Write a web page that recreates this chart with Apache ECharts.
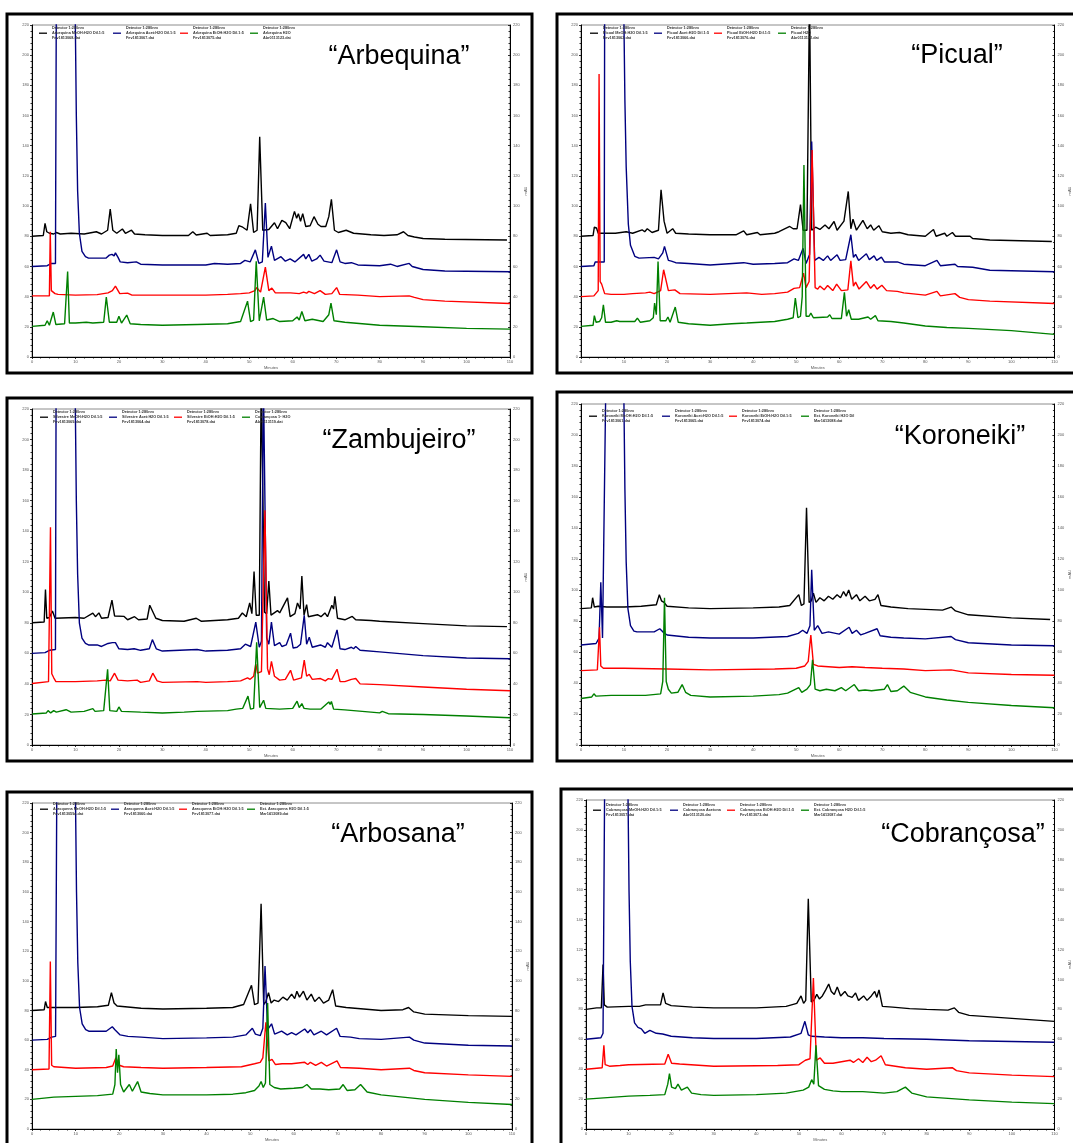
<!DOCTYPE html>
<html><head><meta charset="utf-8">
<script src="https://cdn.jsdelivr.net/npm/echarts@6/dist/echarts.min.js"></script>
<style>html,body{margin:0;padding:0;background:#fff}#c{width:1073px;height:1143px}</style>
</head><body><div id="c"></div><script>
// ---------- DATA ----------
const panelTitles = ['\u201CArbequina\u201D','\u201CPicual\u201D','\u201CZambujeiro\u201D','\u201CKoroneiki\u201D','\u201CArbosana\u201D','\u201CCobrançosa\u201D'];
const traceColors = ['#000000','#000080','#ff0000','#008000'];
const detectorLine = 'Detector 1:280nm';
const xLabelName = 'Minutes';
const yLabelName = 'mAU';

// Arbequina
const arbequinaMeOH = [[0,80],[2.6,80.5],[3,88.5],[3.4,83],[4,82],[5,81.5],[5.6,82.5],[6.5,81.5],[9,82],[12,81.5],[14.8,83],[16,81.5],[17.4,84],[18,98],[18.6,84],[19.5,82],[20.8,84.8],[21.5,82],[22.9,84],[23.6,81.5],[26,81],[30,80.5],[36,80.5],[37,83],[37.8,80.8],[40.3,82],[41,80.5],[45,81],[47,82],[47.6,87],[48.5,86],[49.5,84],[50.3,101.5],[51,82.5],[51.8,84],[52.4,146],[53.1,84],[53.5,84],[54.5,84.5],[55.8,89],[56.5,85],[57.5,90.5],[58.4,89],[59.3,85],[60.4,96.5],[60.9,92],[61.3,95],[61.8,90],[62.3,95],[63,86.5],[64,87],[64.9,93],[65.8,88],[66.5,86.5],[67.6,86.5],[68.3,93],[68.9,104.5],[69.6,84],[70.5,82.5],[72.3,84],[74,82],[78,81],[81,80.5],[84,81],[85.5,83],[86.5,80.5],[88,79.5],[90,78.5],[95,78],[109.3,77.5]];
const arbequinaAcet = [[0,60],[3.5,60.5],[4.5,62],[5.4,62],[5.6,240],[9.9,240],[10.2,160],[10.5,110],[10.9,82],[11.5,70],[12.3,66.5],[13,65.5],[17,65.5],[17.8,67.5],[18.4,68],[18.9,67],[19.2,69],[19.8,66],[20.3,63],[22,62.5],[24,63],[25,61.5],[30,61],[40,61],[42,62],[45,61.5],[48,62],[49,64],[50.2,63],[51.4,71],[52.2,62],[53,63],[53.7,102],[54.3,66],[55.1,73.5],[55.8,64],[57.3,66.5],[58.3,63.5],[59.4,65],[60.5,63],[62.5,68],[63,65],[63.7,68],[64.4,63.5],[65.5,65],[66.3,67.5],[67.2,63.5],[69,62.5],[70.1,71],[70.9,63],[72,62],[73.5,62.5],[75,61],[80,60.5],[82.5,61.5],[84,60],[86.8,62],[87.5,60],[90,58],[95,57],[110,56.5]];
const arbequinaEtOH = [[0,40.5],[4,40.5],[4.2,83],[4.45,44],[4.8,44],[5.3,42],[6,41.5],[10,41],[15,41.3],[17.5,42.5],[18.5,44],[19.2,47],[20.2,42],[22,42.3],[23,41],[30,41],[40,41],[45,41.5],[48,42],[50,42.5],[51.3,44],[51.7,46],[52.6,43],[53.7,59.5],[54.5,44],[55.2,45.7],[56,42.5],[57.3,42.5],[59.5,42.5],[61.5,42],[62.5,43],[63.2,42.3],[63.7,43.5],[65,42],[66.3,44],[67.5,41.5],[69,42],[70.1,46],[70.8,41.5],[75,41],[80,40],[86.8,40.5],[88,39.5],[90,38],[95,37],[110,35.5]];
const arbequinaH2O = [[0,20.3],[3,21],[3.5,24],[4,21],[4.9,29.8],[5.5,21.5],[7.5,22],[8.2,56.7],[8.6,22.5],[10,22.5],[12.5,23],[14,22.5],[16.5,23],[17.1,39.7],[17.8,23],[19.5,23],[20,27],[20.6,22.5],[21.8,27.8],[22.6,22],[25,21.5],[30,21],[38,21.5],[45,22],[48,23.5],[49.6,37],[50.3,23.5],[51,24.5],[51.6,63.5],[52.3,24],[53.3,39.7],[54,24.5],[55.5,25.5],[57,23.5],[60,24],[61,26.5],[61.5,24.5],[62.1,30.2],[62.8,24],[64.5,25],[67,23.5],[68.3,28],[68.8,35.7],[69.5,24],[72,23],[80,21],[90,20],[100,19],[110,18.5]];

// Picual
const picualMeOH = [[0,80],[2.8,80.5],[3.1,86],[3.6,85.5],[4,82],[8,82],[10.5,83],[12,82],[14.2,84.3],[14.8,83],[15.4,85],[16.5,82.5],[18,84],[18.6,110.8],[19.3,90],[20,82],[21.3,85],[22,82],[25,81.5],[30,81],[36,81],[37.8,83.6],[38.5,81],[41,82.5],[41.6,81],[45,82],[46,83],[48.5,86.5],[49.3,85],[50.2,85],[51,101],[51.6,84],[52.5,84],[53.1,240],[53.6,84],[54.5,86],[55.5,84.5],[56.7,87.5],[57.6,85],[58.8,89.8],[59.5,84],[61.1,90],[62.1,109.7],[62.7,85],[63.2,91.3],[64,84],[65.5,90.5],[66.5,85],[67.3,87.5],[68,84],[69.2,87],[70,83],[72,82],[74,82.5],[76,81],[80,80],[81.9,84.5],[82.5,80],[84.5,82],[85,80],[86.3,82.5],[87,80],[90.4,80],[91,78.5],[95,77.5],[109.4,76.5]];
const picualAcet = [[0,60],[3,60.5],[3.3,63],[4.8,63],[5.4,63],[5.5,240],[9.9,240],[10.2,170],[10.5,126],[11,88],[11.5,74],[12.5,66.7],[13.5,65.5],[17,66],[18,65],[19,69],[19.4,73.3],[20.3,64],[21,63.5],[22,62.5],[25,62],[30,61],[37.8,62.5],[40,61.5],[45,62],[48,62.5],[49.5,65],[50.5,64],[51.6,72],[52.3,62],[53.1,68],[53.6,142.8],[54.3,64],[55.3,66],[56.3,64],[57.3,67],[58,64],[59.5,67.7],[60.2,64],[61.5,64.5],[62.7,81],[63.3,66],[63.8,68],[64.5,64],[66.3,68.4],[67,64.5],[68.1,67],[68.7,64],[69.8,66.2],[70.5,63],[73.5,63],[75,61.5],[80,60.5],[82.7,64],[83.5,60.5],[86.9,61.5],[87.5,60],[91,59.5],[95,57.5],[110,56.5]];
const picualEtOH = [[0,40],[3,40.5],[4,44],[4.2,187.6],[4.45,50],[4.8,48.3],[5.5,42],[7,41.5],[10,41.5],[12,42],[15,42.5],[16,43],[17,42],[18.5,44],[19.2,57.8],[20.3,44],[21.8,44.5],[23,42],[30,41.5],[38.5,42.5],[42,41.5],[45,42],[48,43],[49.5,45.5],[50.8,46],[51.7,55.6],[52.3,46],[53,50],[53.7,137.2],[54.4,46],[55,45],[55.5,47],[56.5,44.5],[57.3,47.4],[58.5,44],[59.4,48.3],[60.5,44],[62,44.5],[62.7,63.8],[63.3,47],[63.8,49.6],[64.6,45],[66.3,50],[67.3,45.5],[68.1,48],[68.8,45],[69.9,47.5],[71,44],[73.5,43.5],[75,42.5],[80,41],[82.7,43.5],[83.5,40.5],[86.9,42],[88,39.5],[90,38],[95,37],[110,35.5]];
const picualH2O = [[0,20.3],[2.8,21],[3.1,27.4],[3.5,23],[4.3,23.5],[4.8,26],[5.2,34.6],[5.7,23],[7,23],[8.3,24],[9,23.5],[12.5,23.5],[13.1,25.8],[13.8,23],[16,24],[16.8,26],[17.1,35.7],[17.5,28],[17.9,63.3],[18.4,24],[19.7,24],[20.2,26.5],[20.7,23],[21.9,33.1],[22.6,23],[25,22],[30,21],[35,22],[38.5,22.5],[45,23.5],[48,25],[49.3,26],[49.8,39],[50.4,26],[51,27],[51.4,40],[51.8,127.3],[52.3,27],[53,27],[53.4,29.1],[54,26],[57.3,26.5],[57.8,28],[58.3,25.5],[60.5,25.5],[61.2,42.8],[61.7,27],[62.2,31.3],[62.8,25],[64.5,25],[66.7,26.5],[67.3,25],[68.4,27.4],[69,24],[72,23.5],[75,22.5],[80,20.5],[85,19.5],[90,19],[100,17.5],[110,15]];

// Zambujeiro
const zambujeiroMeOH = [[0,80],[2.8,80.5],[3.1,101.8],[3.4,83],[4,83.5],[4.7,87.7],[5.3,83],[10,83.5],[12,83],[14,86.4],[14.6,84],[15.4,86.5],[16,83],[17.5,83.5],[18.4,94.8],[19,84.5],[21.2,84.2],[22,82],[23.6,84],[24.5,82],[26.5,82.5],[27.1,91.5],[28.5,83],[30,81.5],[35,81],[37.8,83],[39,81],[45,82],[47.5,83],[48.4,86.4],[49.3,84],[50.1,93],[50.6,86],[51.1,113.5],[51.6,85],[52.3,85],[52.75,240],[53.1,240],[53.5,87],[54,86],[54.5,107.4],[55,85],[56.5,88],[57,86.5],[58.8,96.3],[59.4,84],[60.5,86],[61.1,93],[61.7,89],[62.1,110.7],[62.6,85],[63.2,91.9],[63.6,84],[65.7,85.3],[66.5,84],[67.4,86.5],[68,84],[69,91.5],[69.4,89],[69.7,97.4],[70.3,83],[72,82],[73.7,84.2],[74.5,82],[78,81.5],[80,81],[90,79.5],[100,78],[109.3,77.5]];
const zambujeiroAcet = [[0,60],[3,60.5],[4,62],[5.4,62.5],[5.55,240],[9.9,240],[10.2,160],[10.5,112],[10.9,80],[11.5,70],[12.3,66.5],[13,65.5],[15,65.5],[16,64.5],[17.5,66.5],[18.5,67],[18.9,66],[19.2,67],[20,63],[22,62.5],[23.5,63],[25,62],[27,63],[27.7,69],[28.6,63],[30,61.5],[38,62.5],[40,61.5],[45,62],[48,63],[49.1,66],[50.3,64.5],[51.5,80.5],[52.3,64],[52.8,68],[53.25,240],[53.65,240],[54,70],[54.5,66],[55.1,80.5],[55.8,65],[57,67],[57.5,64.5],[58.5,65.5],[59.5,73.2],[60.1,63.5],[61,64],[61.8,66],[62.65,84.9],[63.2,66],[63.8,70.5],[64.5,64],[66.4,65.5],[67.5,64],[68,67],[69,64],[70.2,75.4],[70.9,63],[72,62.5],[73.5,64],[74,63],[74.5,64.5],[75.5,62],[80,61],[90,58.5],[100,57],[110,56.5]];
const zambujeiroEtOH = [[0,40.3],[3.8,41.5],[4.25,142.6],[4.55,46.7],[5,44],[5.5,41.5],[10,41.5],[15,42],[17,42.5],[18,42],[19,47],[19.8,42.5],[22,42],[24.2,42.5],[25,41],[27,42],[27.8,47],[28.8,42],[30,41],[38,41.5],[40,41],[45,41.5],[48,42],[49.6,44],[50.2,43],[51,45],[51.5,52.9],[51.9,47],[52.8,48],[53.6,153.7],[54.2,50],[54.6,46],[55.1,54.7],[55.8,45],[57,42.5],[58.3,43],[59.5,48.9],[60.2,42.5],[62,44],[62.65,55.6],[63.2,45],[63.8,46.3],[64.5,43],[66.4,43.5],[67.5,42],[68.2,43.5],[69,43],[70.2,49.6],[70.9,41.5],[72,41.5],[73.5,43],[74.5,43.5],[75.5,40],[80,39.5],[90,38],[100,36.5],[110,35.5]];
const zambujeiroH2O = [[0,20.3],[3.3,21],[3.7,22.5],[4.3,21],[5,22.5],[5.6,21.5],[7.85,23.1],[9,21.5],[12,22],[14,23.8],[14.5,22],[16.5,22.5],[17.4,49.6],[17.9,22.5],[19.5,22],[20,24.9],[20.6,22],[25,21.5],[30,21],[35,21.5],[38,22],[45,22.5],[47,23.5],[48.5,24],[49.7,32],[50.3,23.5],[51,24],[51.7,67.2],[52.4,24.5],[53.3,29.3],[53.8,24],[57,23.5],[60,24],[61,28.7],[61.5,24.5],[62.1,27.1],[62.6,24],[64,23.5],[66.5,23.5],[68.3,28.2],[68.6,26.5],[68.9,28.5],[69.4,23.5],[72,23],[74,22.5],[80,21],[80.6,22],[82,20.5],[90,20],[100,19],[110,17.8]];

// Koroneiki
const koroneikiMeOH = [[0,88],[2.4,88.5],[2.7,95],[3.1,89],[4,89.5],[6,89],[10,89],[14,89.5],[17.5,90.5],[18.2,97],[18.7,93],[19.3,92],[20,89.5],[25,88.5],[30,88],[40,88.5],[46,89],[48.5,90],[50.6,97],[51.2,90],[51.8,91],[52.4,153],[53,92],[53.5,93],[54,98],[54.6,92],[55.5,95],[56.5,93],[57.5,96],[58.5,94],[59.5,97],[60.3,95],[61,99],[61.6,96],[62.2,100],[62.9,94],[64,97],[64.8,93],[66,96],[67,93],[68.3,94],[69,97],[69.7,90],[72,89],[76,88],[80,87.5],[84,87],[86,89],[87,86.5],[90,84],[100,82],[109,81]];
const koroneikiAcet = [[0,64.5],[3.5,65.5],[4.2,69],[4.6,105],[5,69],[5.4,69],[5.8,240],[9.9,240],[10.2,165],[10.5,118],[10.9,88],[11.5,77],[12.3,73.5],[13,73],[17,73],[18.3,75],[19,73],[20,71],[25,69.5],[30,69],[40,69],[48,70],[50.5,72],[51.5,74],[52.5,72],[53.2,77],[53.6,113],[54.2,74],[55,77],[56,72],[57.5,73],[60,71.5],[62.3,76],[63,72],[64,74],[65,71],[66,72],[68.8,75],[69.5,70.5],[72,69.5],[75,69],[80,68.5],[86,70],[87,68],[90,66],[100,64.5],[110,64]];
const koroneikiEtOH = [[0,48],[3.8,48.5],[4.3,76],[4.6,51],[5.2,49.5],[10,49.5],[20,49],[30,48.5],[45,49],[50,49.5],[52,51],[52.8,54],[53.4,71],[54,52],[55,51],[60,50],[63,50.5],[66,50],[70,49.5],[75,49],[80,48],[86,48.5],[90,46.5],[100,45.5],[110,45]];
const koroneikiH2O = [[0,30],[2.5,31],[3,33],[3.5,31.5],[7,32],[10,32],[15,32],[18.5,33],[19,41],[19.4,95],[19.8,41],[20.3,36],[21,33.5],[22.5,34],[23.5,39],[24.3,34],[25.5,32],[30,31],[40,31.5],[46,32.5],[48,33.5],[50.6,37],[51.3,34],[52.5,36],[53.3,39],[53.8,55],[54.4,36],[55.5,35],[57,36],[59,35],[60.5,37],[61.5,35],[63.5,39],[64.5,35],[66,35.5],[67.5,35],[70.5,36],[71.2,39],[72,34.5],[73.5,35],[75,38],[76.5,34],[80,31],[85,29],[90,27.5],[100,25.5],[110,24]];

// Arbosana
const arbosanaMeOH = [[0,80],[2.8,80.5],[3.1,86],[3.5,82],[5,82],[10,82],[15,82.5],[17.5,83.5],[18.2,92],[18.8,85],[19.5,83],[25,81.5],[30,81],[40,81.5],[46,82],[48.5,84],[50.3,97],[51,84],[51.8,85],[52.5,152],[53.1,84],[53.6,86],[54.2,92],[54.8,85],[55.5,87],[56.5,86],[57.5,89],[58.5,87],[59.5,91],[60.2,88],[60.7,93],[61.3,89],[62.2,93],[63,87],[64,91],[64.8,86],[65.8,89],[66.8,85],[68,87],[68.9,94],[69.6,83],[72,82],[80,80],[85,80.5],[86.3,82],[87.5,79],[90,77.5],[100,76.5],[110,76]];
const arbosanaAcet = [[0,60],[3.5,60.5],[4.5,62],[5.4,62.5],[5.7,240],[9.9,240],[10.2,160],[10.5,112],[10.9,82],[11.5,71],[12.3,67],[13,66],[17,66],[18.4,69],[19,67],[19.4,68],[20.2,63.5],[22,62.5],[25,62],[30,61],[40,61.5],[46,62],[49,63.5],[50.5,68],[51.2,64],[52.3,63],[52.9,68],[53.4,110],[54,67],[54.9,71],[55.6,64],[57.2,66],[58.5,63.5],[59.5,65],[60.5,63.5],[62.5,67.5],[63.2,65],[63.8,67],[64.6,63.5],[66.3,66],[67.5,63.5],[69.8,68],[70.6,62.5],[73,62],[75,61],[80,60.5],[86.5,62],[87.5,60],[90,58],[100,56.5],[110,56]];
const arbosanaEtOH = [[0,40],[3.9,40.5],[4.2,113],[4.5,43],[5,42],[10,41],[17,41.5],[18.5,42.5],[19.2,48],[20,43],[21,42],[25,41.5],[30,41],[40,41.5],[48,42],[51,44],[52.3,45],[52.9,48],[53.6,72],[54.3,46],[55,47],[55.8,43.5],[57.3,44],[59.5,44],[62.5,45],[63.2,43.5],[63.8,45],[65,43],[66.3,45],[67.5,42.5],[69.9,46],[70.7,41.5],[75,41],[80,40],[86.5,41],[87.5,39.5],[90,38],[100,36.5],[110,35.5]];
const arbosanaH2O = [[0,20],[5,21.5],[10,22],[15,22.5],[18.5,23.5],[19,30],[19.3,54],[19.6,38],[19.9,50],[20.3,30],[21,25],[22.3,30],[23,25.5],[24.2,32],[25,25],[27,24],[30,23],[40,23],[46,23.5],[49,24.5],[51,26],[52,29],[52.5,32],[53,28],[53.5,31],[54,85],[54.5,30],[55.5,28],[57,27],[60,27.5],[62,28],[63,30],[64,27],[66,27],[68,26.5],[70.5,27],[71.3,30],[72.2,26],[74,26.5],[75.3,30],[76.8,25],[80,23],[90,20],[100,18],[110,16.5]];

// Cobrançosa
const cobrancosaMeOH = [[0,80],[2.5,81],[3.6,81],[4,110],[4.3,83],[5,81.5],[10,82],[12.5,82],[14,83],[17.5,83],[18.1,91],[18.7,84],[20,82.5],[25,81.5],[30,81],[40,81],[47,82],[49.5,84],[50.5,89],[51.1,84],[51.6,86],[52.2,154],[52.9,85],[53.5,86],[54.2,90],[54.8,87],[55.5,89],[56.3,93],[57,97],[57.6,92],[58.3,90],[59,95],[59.8,89],[60.8,92],[61.5,89],[62.5,88],[63.3,91],[64,86],[65.2,89],[66,86],[67,89],[67.8,92],[68.3,88],[68.8,93],[69.6,82],[72,81.5],[76,80.5],[80,80],[85,79.5],[86.5,81],[87.5,78],[90,76],[100,74],[110,72]];
const cobrancosaAcet = [[0,60],[3.5,61],[4,64],[4.4,240],[9.8,240],[10.1,160],[10.4,112],[10.8,82],[11.4,71],[12.2,68],[13,67],[13.8,64],[15,66],[16.5,64],[18,63.5],[20,62],[25,61],[30,60.5],[40,60.5],[48,61.5],[50.5,64],[51.4,72],[52.2,63],[53,62],[56,61.5],[60,61],[65,61],[70,60.5],[80,60],[90,59],[100,58.5],[110,58]];
const cobrancosaEtOH = [[0,40],[3.8,41],[4.2,56],[4.5,43],[5.5,42],[8,42.5],[10,43],[18.5,43.5],[19.3,50],[20.1,44],[22,43.5],[30,42],[45,42.5],[50,43],[51.5,46],[52.6,47],[53.4,101],[54.1,46],[55,47.5],[56,44],[58,44],[60,45],[62,46],[62.8,44.5],[64,47],[65,44.5],[66,48],[67,45],[68,46],[69.3,49],[70.3,43],[75,41],[80,40],[86,41],[87,39],[90,37.5],[100,36],[110,35]];
const cobrancosaH2O = [[0,20],[5,21],[10,22],[15,22.5],[18.5,23],[19.2,30],[19.6,37],[20.1,28],[21,27],[21.6,30],[22.4,26],[23.8,28],[24.8,24],[27,23],[30,22.5],[40,23],[47,24],[51,26],[52.3,28],[53,33],[53.5,30],[54,56],[54.6,29],[56,26.5],[58,25.5],[60,25],[65,25],[70,24],[73,25],[75,28],[76.5,24],[80,21.5],[90,19.5],[100,18],[110,17]];

// legend texts (sample, file)
const legendArbequina = [['Arbequina MeOH:H2O Dil.1:5','Fev1813068.dat'],['Arbequina Acet:H2O Dil.1:5','Fev1813067.dat'],['Arbequina EtOH:H2O Dil.1:5','Fev1813075.dat'],['Arbequina H2O','Abr0113123.dat']];
const legendPicual = [['Picual MeOH:H2O Dil.1:5','Fev1813062.dat'],['Picual Acet:H2O Dil.1:5','Fev1813066.dat'],['Picual EtOH:H2O Dil.1:5','Fev1813076.dat'],['Picual H2O','Abr0113122.dat']];
const legendZambujeiro = [['Silvestre MeOH:H2O Dil.1:5','Fev1813069.dat'],['Silvestre Acet:H2O Dil.1:5','Fev1813064.dat'],['Silvestre EtOH:H2O Dil.1:5','Fev1813078.dat'],['Cobrançosa 1º H2O','Abr0113119.dat']];
const legendKoroneiki = [['Koroneiki MeOH:H2O Dil.1:5','Fev1813061.dat'],['Koroneiki Acet:H2O Dil.1:5','Fev1813065.dat'],['Koroneiki EtOH:H2O Dil.1:5','Fev1813074.dat'],['Ext. Koroneiki H2O Dil','Mar1413088.dat']];
const legendArbosana = [['Arasquena MeOH:H2O Dil.1:5','Fev1813059a.dat'],['Arasquena Acet:H2O Dil.1:5','Fev1813060.dat'],['Arasquena EtOH:H2O Dil.1:5','Fev1813077.dat'],['Ext. Arasquena H2O Dil.1:5','Mar1413089.dat']];
const legendCobrancosa = [['Cobrançosa MeOH:H2O Dil.1:5','Fev1813057.dat'],['Cobrançosa Acetona','Abr0113120.dat'],['Cobrançosa EtOH:H2O Dil.1:5','Fev1813073.dat'],['Ext. Cobrançosa H2O Dil.1:5','Mar1413087.dat']];

const panelTraces = [
  [arbequinaMeOH, arbequinaAcet, arbequinaEtOH, arbequinaH2O],
  [picualMeOH, picualAcet, picualEtOH, picualH2O],
  [zambujeiroMeOH, zambujeiroAcet, zambujeiroEtOH, zambujeiroH2O],
  [koroneikiMeOH, koroneikiAcet, koroneikiEtOH, koroneikiH2O],
  [arbosanaMeOH, arbosanaAcet, arbosanaEtOH, arbosanaH2O],
  [cobrancosaMeOH, cobrancosaAcet, cobrancosaEtOH, cobrancosaH2O]
];
const panelLegends = [legendArbequina, legendPicual, legendZambujeiro, legendKoroneiki, legendArbosana, legendCobrancosa];

// ---------- LAYOUT (pixels) ----------
const layout = [
  {frame:[7,14,525,359],  grid:[32,25,478,332],  title:[399,57],  legendX:[39,113,180,250], legendTop:26},
  {frame:[557,14,525,359],grid:[581,25,477,332], title:[957,56],  legendX:[590,654,714,778], legendTop:26},
  {frame:[7,398,525,363], grid:[32,409,478,336], title:[399,441], legendX:[40,109,174,242], legendTop:410},
  {frame:[557,392,525,369],grid:[581,404,481,341],title:[960,437], legendX:[589,662,729,801], legendTop:409},
  {frame:[7,792,525,362], grid:[32,803,480,333], title:[398,835], legendX:[40,111,179,247], legendTop:802},
  {frame:[561,789,525,362],grid:[586,800,477,336],title:[963,835], legendX:[593,670,727,801], legendTop:803}
];

// ---------- BUILD ----------
const FONT = 'Liberation Sans, Arial, sans-serif';
const grid=[], xAxis=[], yAxis=[], series=[], legend=[], graphic=[];
const tickStyle = {color:'#000', width:0.8};
layout.forEach((L,i)=>{
  grid.push({left:L.grid[0], top:L.grid[1], width:L.grid[2], height:L.grid[3], show:true, borderColor:'#8c8c8c', borderWidth:1, backgroundColor:'transparent', containLabel:false});
  xAxis.push({gridIndex:i, type:'value', min:0, max:110, interval:10,
    axisLine:{show:true, onZero:false, lineStyle:{color:'#000', width:1}},
    axisTick:{show:true, length:2, lineStyle:tickStyle},
    minorTick:{show:true, splitNumber:5, length:1.5, lineStyle:tickStyle},
    splitLine:{show:false},
    axisLabel:{fontSize:4, color:'#555', margin:3, fontFamily:FONT},
    name:xLabelName, nameLocation:'middle', nameGap:9, nameTextStyle:{fontSize:4, color:'#555', fontFamily:FONT}});
  yAxis.push({gridIndex:i, type:'value', min:0, max:220, interval:20, position:'left',
    axisLine:{show:true, onZero:false, lineStyle:{color:'#000', width:1}},
    axisTick:{show:true, length:2, lineStyle:tickStyle},
    minorTick:{show:true, splitNumber:5, length:1.5, lineStyle:tickStyle},
    splitLine:{show:false},
    axisLabel:{fontSize:4, color:'#555', margin:3, fontFamily:FONT}});
  yAxis.push({gridIndex:i, type:'value', min:0, max:220, interval:20, position:'right',
    axisLine:{show:true, onZero:false, lineStyle:{color:'#000', width:1}},
    axisTick:{show:true, inside:true, length:2, lineStyle:tickStyle},
    minorTick:{show:true, splitNumber:5, length:1.5, lineStyle:tickStyle},
    splitLine:{show:false},
    axisLabel:{fontSize:4, color:'#555', margin:3, fontFamily:FONT},
    name:yLabelName, nameLocation:'middle', nameGap:12, nameRotate:90, nameTextStyle:{fontSize:4, color:'#555', fontFamily:FONT}});
  panelTraces[i].forEach((d,k)=>{
    const name = [detectorLine].concat(panelLegends[i][k]).join('\n');
    series.push({type:'line', name:name, xAxisIndex:i, yAxisIndex:2*i, data:d,
      showSymbol:false, symbol:'none', clip:true, silent:true,
      color:traceColors[k], lineStyle:{width:1.4, color:traceColors[k]}});
    legend.push({left:L.legendX[k], top:L.legendTop, data:[name], selectedMode:false,
      icon:'rect', itemWidth:8, itemHeight:1.3, padding:0, itemGap:0,
      textStyle:{fontSize:3.8, fontWeight:'bold', color:'#333', lineHeight:4.8, fontFamily:FONT}});
  });
  graphic.push({type:'rect', shape:{x:L.frame[0], y:L.frame[1], width:L.frame[2], height:L.frame[3]},
    style:{fill:'none', stroke:'#000', lineWidth:3}, z:100});
  graphic.push({type:'text', x:L.title[0], y:L.title[1],
    style:{text:panelTitles[i], fill:'#000', font:'27px '+FONT, textAlign:'center', textVerticalAlign:'middle'}, z:100});
});

const chart = echarts.init(document.getElementById('c'), null, {renderer:'canvas'});
chart.setOption({animation:false, backgroundColor:'#fff', grid, xAxis, yAxis, series, legend, graphic});
</script></body></html>
